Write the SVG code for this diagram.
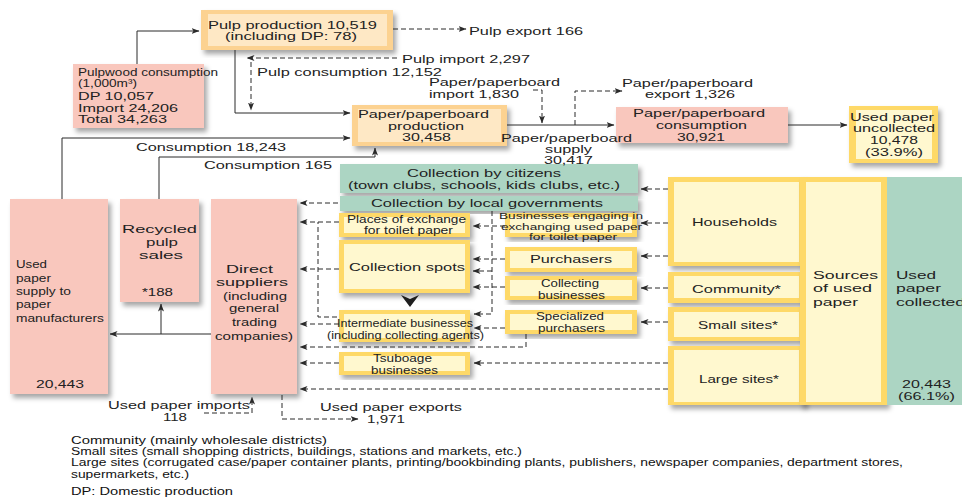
<svg xmlns="http://www.w3.org/2000/svg" width="962" height="497" viewBox="0 0 962 497">
<defs>
  <filter id="sh" x="-10%" y="-10%" width="130%" height="130%">
    <feDropShadow dx="3" dy="4" stdDeviation="2.5" flood-color="#000" flood-opacity="0.35"/>
  </filter>
  <marker id="ah" viewBox="0 0 8 6" refX="7.5" refY="3" markerWidth="8" markerHeight="6" orient="auto" markerUnits="userSpaceOnUse">
    <path d="M0,0 L8,3 L0,6 L2,3 z" fill="#2a2a2a"/>
  </marker>
</defs>
<style>
  .t{font-family:"Liberation Sans",Arial,Helvetica,sans-serif;font-size:11.5px;fill:#222}
  .s{font-family:"Liberation Sans",Arial,Helvetica,sans-serif;font-size:9.5px;fill:#222}
  .f{font-family:"Liberation Sans",Arial,Helvetica,sans-serif;font-size:11px;fill:#111}
  .pink{fill:#f9c7bd}
  .ob{fill:#fcd291}
  .oi{fill:#fee8c5}
  .yb{fill:#fed967}
  .yi{fill:#fff8cf}
  .gr{fill:#acd5c3}
  .solid{fill:none;stroke:#2a2a2a;stroke-width:1}
  .dash{fill:none;stroke:#2a2a2a;stroke-width:1;stroke-dasharray:5 3}
</style>
<rect width="962" height="497" fill="#fff"/>

<!-- supply side -->
<g id="pulp-production">
  <rect class="ob" x="201" y="10" width="192" height="40" filter="url(#sh)"/>
  <rect class="oi" x="208" y="14" width="179" height="32"/>
  <text class="t" x="208" y="29" textLength="169" lengthAdjust="spacingAndGlyphs">Pulp production 10,519</text>
  <text class="t" x="225" y="40" textLength="132" lengthAdjust="spacingAndGlyphs">(including DP: 78)</text>
</g>
<g id="pulpwood">
  <rect class="pink" x="73" y="64" width="131" height="64" filter="url(#sh)"/>
  <text class="t" x="78" y="76" textLength="140" lengthAdjust="spacingAndGlyphs">Pulpwood consumption</text>
  <text class="t" x="78" y="87" textLength="59" lengthAdjust="spacingAndGlyphs">(1,000m³)</text>
  <text class="t" x="78" y="100" textLength="76" lengthAdjust="spacingAndGlyphs">DP 10,057</text>
  <text class="t" x="78" y="112" textLength="100" lengthAdjust="spacingAndGlyphs">Import 24,206</text>
  <text class="t" x="78" y="123" textLength="89" lengthAdjust="spacingAndGlyphs">Total 34,263</text>
</g>
<g id="paper-production">
  <rect class="ob" x="352" y="105" width="155" height="41" filter="url(#sh)"/>
  <rect class="oi" x="358" y="109" width="143" height="33"/>
  <text class="t" x="358" y="118" textLength="131" lengthAdjust="spacingAndGlyphs">Paper/paperboard</text>
  <text class="t" x="388" y="130" textLength="76" lengthAdjust="spacingAndGlyphs">production</text>
  <text class="t" x="402" y="141" textLength="49" lengthAdjust="spacingAndGlyphs">30,458</text>
</g>
<g id="paper-consumption">
  <rect class="pink" x="616" y="107" width="172" height="36" filter="url(#sh)"/>
  <text class="t" x="633" y="117" textLength="132" lengthAdjust="spacingAndGlyphs">Paper/paperboard</text>
  <text class="t" x="656" y="129" textLength="91" lengthAdjust="spacingAndGlyphs">consumption</text>
  <text class="t" x="677" y="141" textLength="48" lengthAdjust="spacingAndGlyphs">30,921</text>
</g>
<g id="uncollected">
  <rect class="yb" x="849" y="106" width="89" height="57" filter="url(#sh)"/>
  <rect class="yi" x="856" y="110" width="76" height="49"/>
  <text class="t" x="850" y="121" textLength="84" lengthAdjust="spacingAndGlyphs">Used paper</text>
  <text class="t" x="853" y="132" textLength="82" lengthAdjust="spacingAndGlyphs">uncollected</text>
  <text class="t" x="870" y="144" textLength="48" lengthAdjust="spacingAndGlyphs">10,478</text>
  <text class="t" x="865" y="156" textLength="58" lengthAdjust="spacingAndGlyphs">(33.9%)</text>
</g>

<!-- collection channels -->
<g id="citizens">
  <rect class="gr" x="340" y="164" width="298" height="29" filter="url(#sh)"/>
  <text class="t" x="407" y="177" textLength="154" lengthAdjust="spacingAndGlyphs">Collection by citizens</text>
  <text class="t" x="348" y="189" textLength="272" lengthAdjust="spacingAndGlyphs">(town clubs, schools, kids clubs, etc.)</text>
</g>
<g id="local-governments">
  <rect class="gr" x="340" y="196" width="298" height="15" filter="url(#sh)"/>
  <text class="t" x="371" y="207" textLength="232" lengthAdjust="spacingAndGlyphs">Collection by local governments</text>
</g>
<g id="places-of-exchange">
  <rect class="yb" x="339" y="213" width="131" height="24" filter="url(#sh)"/>
  <rect class="yi" x="344" y="217" width="121" height="16"/>
  <text class="t" x="347" y="223" textLength="119" lengthAdjust="spacingAndGlyphs">Places of exchange</text>
  <text class="t" x="364" y="234" textLength="89" lengthAdjust="spacingAndGlyphs">for toilet paper</text>
</g>
<g id="collection-spots">
  <rect class="yb" x="339" y="240" width="131" height="53" filter="url(#sh)"/>
  <rect class="yi" x="344" y="244" width="121" height="45"/>
  <text class="t" x="349" y="271" textLength="116" lengthAdjust="spacingAndGlyphs">Collection spots</text>
</g>
<g id="intermediate">
  <rect class="yb" x="339" y="310" width="131" height="32" filter="url(#sh)"/>
  <rect class="yi" x="344" y="314" width="121" height="24"/>
  <text class="t" x="337" y="327" textLength="136" lengthAdjust="spacingAndGlyphs">Intermediate businesses</text>
  <text class="t" x="327" y="339" textLength="157" lengthAdjust="spacingAndGlyphs">(including collecting agents)</text>
</g>
<g id="tsuboage">
  <rect class="yb" x="339" y="352" width="131" height="23" filter="url(#sh)"/>
  <rect class="yi" x="344" y="356" width="121" height="15"/>
  <text class="t" x="373" y="362" textLength="59" lengthAdjust="spacingAndGlyphs">Tsuboage</text>
  <text class="t" x="371" y="374" textLength="67" lengthAdjust="spacingAndGlyphs">businesses</text>
</g>
<g id="toilet-paper-businesses">
  <rect class="yb" x="505" y="213" width="132" height="24" filter="url(#sh)"/>
  <rect class="yi" x="510" y="217" width="122" height="16"/>
  <text class="s" x="499" y="219" textLength="144" lengthAdjust="spacingAndGlyphs">Businesses engaging in</text>
  <text class="s" x="501" y="229.5" textLength="141" lengthAdjust="spacingAndGlyphs">exchanging used paper</text>
  <text class="s" x="529" y="240" textLength="88" lengthAdjust="spacingAndGlyphs">for toilet paper</text>
</g>
<g id="purchasers">
  <rect class="yb" x="505" y="247" width="132" height="25" filter="url(#sh)"/>
  <rect class="yi" x="510" y="251" width="122" height="17"/>
  <text class="t" x="530" y="263" textLength="82" lengthAdjust="spacingAndGlyphs">Purchasers</text>
</g>
<g id="collecting-businesses">
  <rect class="yb" x="505" y="276" width="132" height="24" filter="url(#sh)"/>
  <rect class="yi" x="510" y="280" width="122" height="16"/>
  <text class="t" x="541" y="287" textLength="58" lengthAdjust="spacingAndGlyphs">Collecting</text>
  <text class="t" x="538" y="299" textLength="67" lengthAdjust="spacingAndGlyphs">businesses</text>
</g>
<g id="specialized-purchasers">
  <rect class="yb" x="505" y="310" width="132" height="24" filter="url(#sh)"/>
  <rect class="yi" x="510" y="314" width="122" height="16"/>
  <text class="t" x="536" y="320" textLength="68" lengthAdjust="spacingAndGlyphs">Specialized</text>
  <text class="t" x="538" y="332" textLength="67" lengthAdjust="spacingAndGlyphs">purchasers</text>
</g>

<!-- sources of used paper -->
<g id="households">
  <rect class="yb" x="668" y="177" width="137" height="89" filter="url(#sh)"/>
  <rect class="yi" x="674" y="182" width="125" height="80"/>
  <text class="t" x="692" y="226" textLength="85" lengthAdjust="spacingAndGlyphs">Households</text>
</g>
<g id="community">
  <rect class="yb" x="668" y="272" width="137" height="31" filter="url(#sh)"/>
  <rect class="yi" x="674" y="276" width="125" height="22"/>
  <text class="t" x="692" y="293" textLength="89" lengthAdjust="spacingAndGlyphs">Community*</text>
</g>
<g id="small-sites">
  <rect class="yb" x="668" y="307" width="137" height="34" filter="url(#sh)"/>
  <rect class="yi" x="674" y="312" width="125" height="25"/>
  <text class="t" x="698" y="329" textLength="80" lengthAdjust="spacingAndGlyphs">Small sites*</text>
</g>
<g id="large-sites">
  <rect class="yb" x="668" y="346" width="137" height="59" filter="url(#sh)"/>
  <rect class="yi" x="674" y="350" width="125" height="52"/>
  <text class="t" x="699" y="383" textLength="80" lengthAdjust="spacingAndGlyphs">Large sites*</text>
</g>
<g id="sources">
  <rect class="yb" x="800" y="177" width="87" height="228" filter="url(#sh)"/>
  <rect class="yi" x="806" y="182" width="75" height="220"/>
  <text class="t" x="813" y="279" textLength="65" lengthAdjust="spacingAndGlyphs">Sources</text>
  <text class="t" x="813" y="292" textLength="59" lengthAdjust="spacingAndGlyphs">of used</text>
  <text class="t" x="813" y="306" textLength="45" lengthAdjust="spacingAndGlyphs">paper</text>
</g>
<g id="collected">
  <rect class="gr" x="887" y="177" width="75" height="228"/>
  <text class="t" x="896" y="279" textLength="40" lengthAdjust="spacingAndGlyphs">Used</text>
  <text class="t" x="896" y="292" textLength="45" lengthAdjust="spacingAndGlyphs">paper</text>
  <text class="t" x="896" y="306" textLength="69" lengthAdjust="spacingAndGlyphs">collected</text>
  <text class="t" x="902" y="388" textLength="49" lengthAdjust="spacingAndGlyphs">20,443</text>
  <text class="t" x="898" y="400" textLength="57" lengthAdjust="spacingAndGlyphs">(66.1%)</text>
</g>

<!-- buyers of used paper -->
<g id="supply-to-manufacturers">
  <rect class="pink" x="10" y="199" width="98" height="195" filter="url(#sh)"/>
  <text class="t" x="16" y="268" textLength="31" lengthAdjust="spacingAndGlyphs">Used</text>
  <text class="t" x="16" y="282" textLength="35" lengthAdjust="spacingAndGlyphs">paper</text>
  <text class="t" x="16" y="295" textLength="55" lengthAdjust="spacingAndGlyphs">supply to</text>
  <text class="t" x="16" y="308" textLength="35" lengthAdjust="spacingAndGlyphs">paper</text>
  <text class="t" x="16" y="322" textLength="88" lengthAdjust="spacingAndGlyphs">manufacturers</text>
  <text class="t" x="36" y="388" textLength="48" lengthAdjust="spacingAndGlyphs">20,443</text>
</g>
<g id="recycled-pulp">
  <rect class="pink" x="120" y="199" width="79" height="103" filter="url(#sh)"/>
  <text class="t" x="122" y="233" textLength="75" lengthAdjust="spacingAndGlyphs">Recycled</text>
  <text class="t" x="146" y="246" textLength="32" lengthAdjust="spacingAndGlyphs">pulp</text>
  <text class="t" x="139" y="259" textLength="44" lengthAdjust="spacingAndGlyphs">sales</text>
  <text class="t" x="142" y="296" textLength="31" lengthAdjust="spacingAndGlyphs">*188</text>
</g>
<g id="direct-suppliers">
  <rect class="pink" x="211" y="199" width="86" height="195" filter="url(#sh)"/>
  <text class="t" x="226" y="273" textLength="47" lengthAdjust="spacingAndGlyphs">Direct</text>
  <text class="t" x="216" y="286" textLength="72" lengthAdjust="spacingAndGlyphs">suppliers</text>
  <text class="t" x="223" y="300" textLength="64" lengthAdjust="spacingAndGlyphs">(including</text>
  <text class="t" x="229" y="312" textLength="50" lengthAdjust="spacingAndGlyphs">general</text>
  <text class="t" x="232" y="326" textLength="45" lengthAdjust="spacingAndGlyphs">trading</text>
  <text class="t" x="215" y="340" textLength="78" lengthAdjust="spacingAndGlyphs">companies)</text>
</g>

<!-- flows -->
<g id="connectors">
  <path class="solid" d="M137,64 V31 H199" marker-end="url(#ah)"/>
  <path class="solid" d="M235,50 V113 H350" marker-end="url(#ah)"/>
  <path class="solid" d="M62,199 V138 H350" marker-end="url(#ah)"/>
  <path class="solid" d="M159,199 V157 H375 V148" marker-end="url(#ah)"/>
  <path class="solid" d="M507,125 H614" marker-end="url(#ah)"/>
  <path class="solid" d="M788,125 H847" marker-end="url(#ah)"/>
  <path class="solid" d="M211,334 H110" marker-end="url(#ah)"/>
  <path class="solid" d="M161,334 V304" marker-end="url(#ah)"/>

  <path class="dash" d="M393,29 H466" marker-end="url(#ah)"/>
  <path class="dash" d="M397,58 H247" marker-end="url(#ah)"/>
  <path class="dash" d="M251,62 V110" marker-end="url(#ah)"/>
  <path class="dash" d="M533,90 H542 V123" marker-end="url(#ah)"/>
  <path class="dash" d="M575,125 V91 H622" marker-end="url(#ah)"/>
  <path class="dash" d="M204,413 H252 V397" marker-end="url(#ah)"/>
  <path class="dash" d="M282,395 V419 H358" marker-end="url(#ah)"/>

  <path class="dash" d="M668,189 H641" marker-end="url(#ah)"/>
  <path class="dash" d="M668,223 H641" marker-end="url(#ah)"/>
  <path class="dash" d="M668,256 H641" marker-end="url(#ah)"/>
  <path class="dash" d="M668,288 H641" marker-end="url(#ah)"/>
  <path class="dash" d="M668,322 H641" marker-end="url(#ah)"/>
  <path class="dash" d="M668,363 H474" marker-end="url(#ah)"/>
  <path class="dash" d="M668,389 H300" marker-end="url(#ah)"/>

  <path class="dash" d="M338,203 H300" marker-end="url(#ah)"/>
  <path class="dash" d="M339,222 H300" marker-end="url(#ah)"/>
  <path class="dash" d="M339,269 H300" marker-end="url(#ah)"/>
  <path class="dash" d="M339,324 H300" marker-end="url(#ah)"/>
  <path class="dash" d="M526,334 V347 H300" marker-end="url(#ah)"/>
  <path class="dash" d="M339,363 H300" marker-end="url(#ah)"/>
  <path class="dash" d="M337,317 H318 V222"/>

  <path class="dash" d="M492,211 V314 H474" marker-end="url(#ah)"/>
  <path class="dash" d="M492,271 H473" marker-end="url(#ah)"/>
  <path class="dash" d="M505,226 H473" marker-end="url(#ah)"/>
  <path class="dash" d="M505,259 H473" marker-end="url(#ah)"/>
  <path class="dash" d="M505,287 H473" marker-end="url(#ah)"/>
  <path class="dash" d="M505,328 H474" marker-end="url(#ah)"/>

  <polygon points="401,295 410,299 419,295 410,307" fill="#1e1e1e"/>
</g>

<!-- flow labels -->
<g id="labels">
  <text class="t" x="469" y="35" textLength="114" lengthAdjust="spacingAndGlyphs">Pulp export 166</text>
  <text class="t" x="402" y="63" textLength="128" lengthAdjust="spacingAndGlyphs">Pulp import 2,297</text>
  <text class="t" x="257" y="76" textLength="185" lengthAdjust="spacingAndGlyphs">Pulp consumption 12,152</text>
  <text class="t" x="429" y="86" textLength="131" lengthAdjust="spacingAndGlyphs">Paper/paperboard</text>
  <text class="t" x="429" y="98" textLength="90" lengthAdjust="spacingAndGlyphs">import 1,830</text>
  <text class="t" x="622" y="87" textLength="131" lengthAdjust="spacingAndGlyphs">Paper/paperboard</text>
  <text class="t" x="645" y="98" textLength="90" lengthAdjust="spacingAndGlyphs">export 1,326</text>
  <text class="t" x="501" y="142" textLength="131" lengthAdjust="spacingAndGlyphs">Paper/paperboard</text>
  <text class="t" x="545" y="153" textLength="47" lengthAdjust="spacingAndGlyphs">supply</text>
  <text class="t" x="544" y="164" textLength="49" lengthAdjust="spacingAndGlyphs">30,417</text>
  <text class="t" x="136" y="151" textLength="150" lengthAdjust="spacingAndGlyphs">Consumption 18,243</text>
  <text class="t" x="204" y="169" textLength="128" lengthAdjust="spacingAndGlyphs">Consumption 165</text>
  <text class="t" x="108" y="409" textLength="142" lengthAdjust="spacingAndGlyphs">Used paper imports</text>
  <text class="t" x="163" y="421" textLength="24" lengthAdjust="spacingAndGlyphs">118</text>
  <text class="t" x="320" y="411" textLength="142" lengthAdjust="spacingAndGlyphs">Used paper exports</text>
  <text class="t" x="367" y="423" textLength="38" lengthAdjust="spacingAndGlyphs">1,971</text>
</g>

<!-- notes -->
<g id="notes">
  <text class="f" x="71" y="444" textLength="256" lengthAdjust="spacingAndGlyphs">Community (mainly wholesale districts)</text>
  <text class="f" x="71" y="455" textLength="451" lengthAdjust="spacingAndGlyphs">Small sites (small shopping districts, buildings, stations and markets, etc.)</text>
  <text class="f" x="71" y="466" textLength="832" lengthAdjust="spacingAndGlyphs">Large sites (corrugated case/paper container plants, printing/bookbinding plants, publishers, newspaper companies, department stores,</text>
  <text class="f" x="71" y="478" textLength="118" lengthAdjust="spacingAndGlyphs">supermarkets, etc.)</text>
  <text class="f" x="71" y="495" textLength="162" lengthAdjust="spacingAndGlyphs">DP: Domestic production</text>
</g>
</svg>
